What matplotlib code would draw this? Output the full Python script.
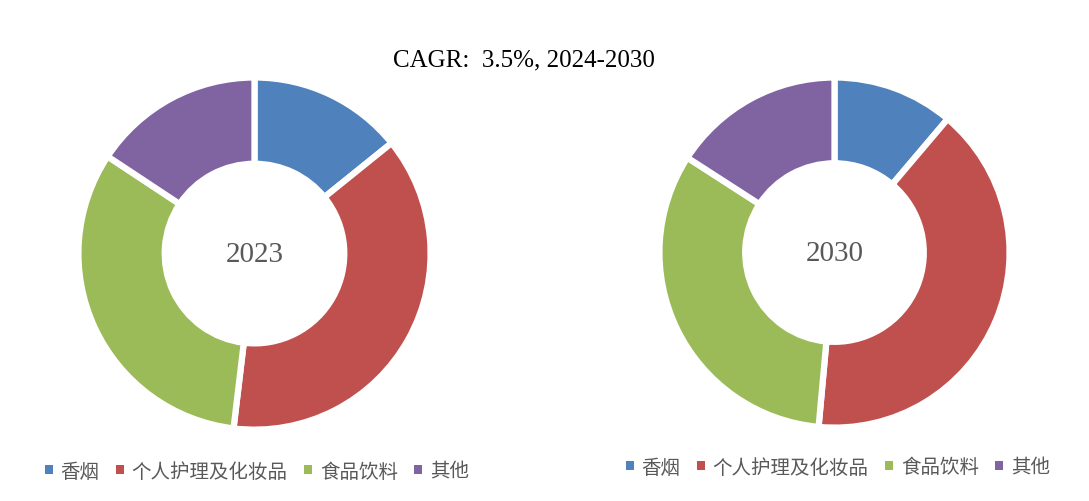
import matplotlib.pyplot as plt
from matplotlib.patches import Patch

plt.rcParams['font.family'] = ['Noto Sans CJK SC', 'DejaVu Sans']

categories = ['香烟', '个人护理及化妆品', '食品饮料', '其他']
share_2023 = [14.2, 37.7, 32.4, 15.7]
share_2030 = [11.2, 40.3, 32.7, 15.9]
colors = ['#4F81BD', '#C0504D', '#9BBB59', '#8064A2']
title = 'CAGR:  3.5%, 2024-2030'

fig = plt.figure(figsize=(10.89, 5.02), dpi=100)

# axes placed so each donut spans the whole axes box
ax1 = fig.add_axes([0.0744, 0.1474, 0.3186, 0.691])
ax2 = fig.add_axes([0.6079, 0.1514, 0.3168, 0.687])

for ax, vals, year in [(ax1, share_2023, '2023'), (ax2, share_2030, '2030')]:
    ax.pie(vals, colors=colors, startangle=90, counterclock=False, radius=1,
           wedgeprops=dict(width=0.49, edgecolor='white', linewidth=4.5))
    ax.set_xlim(-0.985, 0.985)
    ax.set_ylim(-0.985, 0.985)
    ax.set_aspect('equal')
    ax.axis('off')
    ax.text(0, 0, year, ha='center', va='center', fontsize=21,
            color='#595959', family=['Liberation Serif', 'DejaVu Serif'])

handles = [Patch(facecolor=c, edgecolor='none') for c in colors]
legend_kw = dict(ncol=4, frameon=False, fontsize=14, handlelength=0.4,
                 handleheight=0.4, handletextpad=0.4, columnspacing=0.85,
                 labelcolor='#595959')
fig.legend(handles, categories, loc='center', bbox_to_anchor=(257 / 1089, 1 - 472 / 502), **legend_kw)
fig.legend(handles, categories, loc='center', bbox_to_anchor=(838 / 1089, 1 - 468 / 502), **legend_kw)

fig.text(524 / 1089, 1 - 60 / 502, title, ha='center', va='center', fontsize=18,
         color='black', family=['Liberation Serif', 'DejaVu Serif'])

fig.savefig('out.png', dpi=100)
